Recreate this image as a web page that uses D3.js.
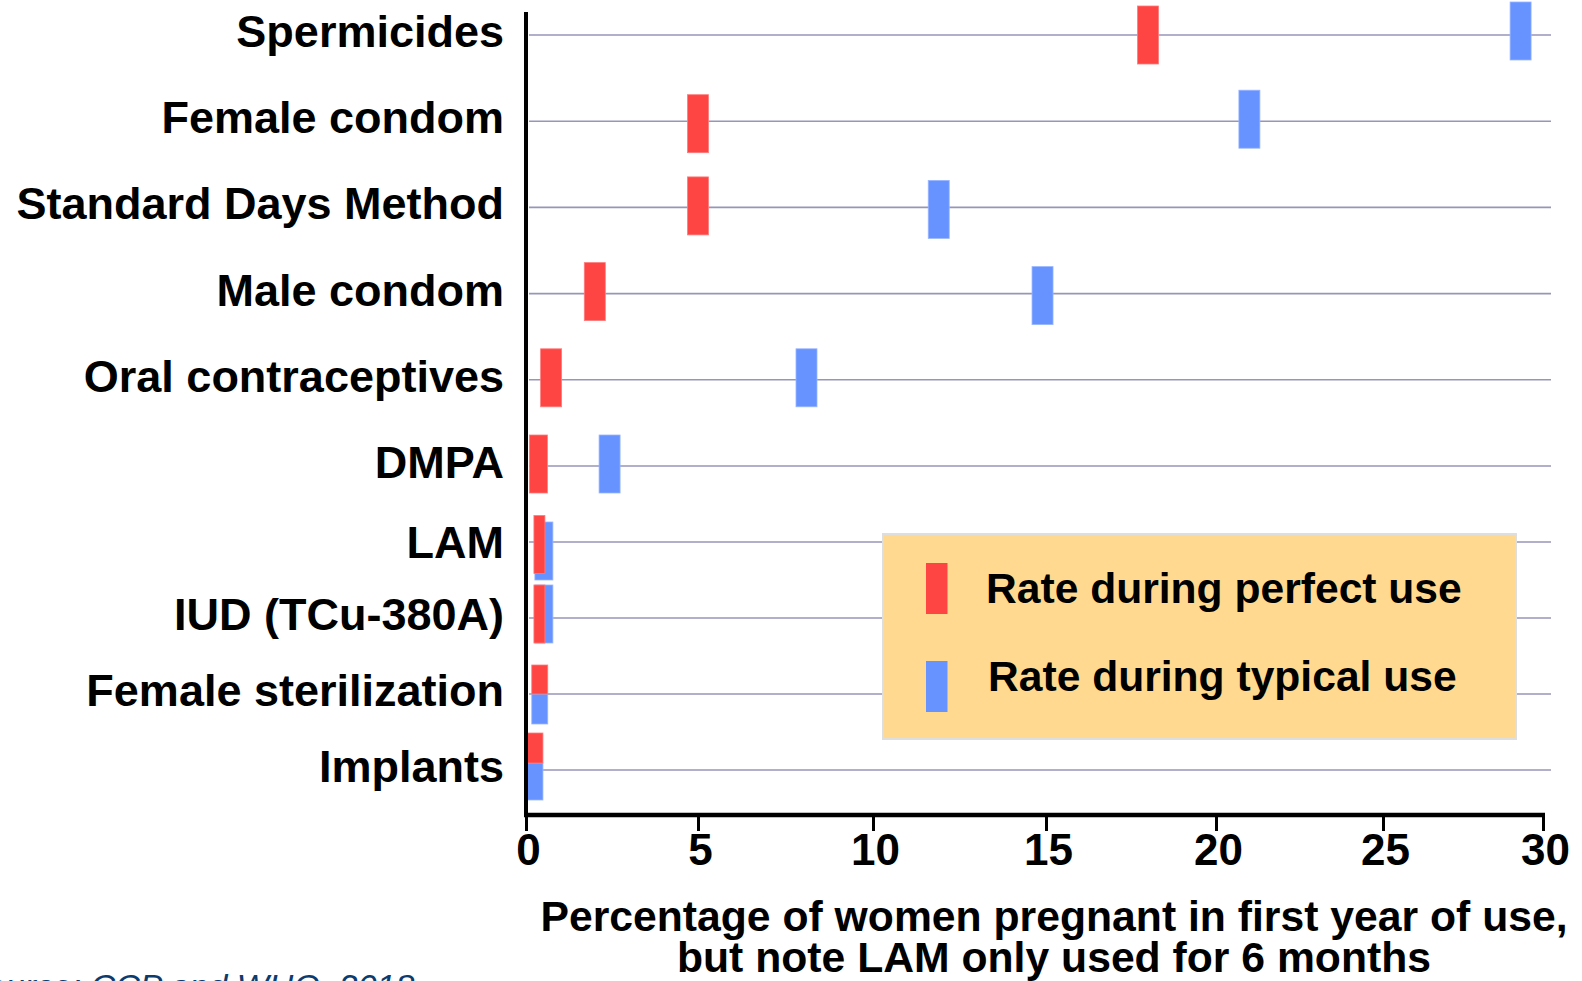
<!DOCTYPE html>
<html>
<head>
<meta charset="utf-8">
<script src="https://cdn.jsdelivr.net/npm/d3@7"></script>
<style>
  html, body { margin: 0; padding: 0; background: #ffffff; }
  svg { display: block; }
  text { font-family: "Liberation Sans", Arial, Helvetica, sans-serif; }
</style>
</head>
<body>
<svg id="chart" width="1582" height="981"></svg>
<script>
// ---------- data ----------
const categories = [
  "Spermicides", "Female condom", "Standard Days Method", "Male condom",
  "Oral contraceptives", "DMPA", "LAM", "IUD (TCu-380A)",
  "Female sterilization", "Implants"
];
const perfectUse = [18, 5, 5, 2, 0.73, 0.36, 0.39, 0.39, 0.4, 0.26];
const typicalUse = [29.3, 21, 11.9, 14.9, 8.1, 2.43, 0.52, 0.52, 0.4, 0.26];
const xTicks = [0, 5, 10, 15, 20, 25, 30];
const seriesNames = ["Rate during perfect use", "Rate during typical use"];
const axisTitle = ["Percentage of women pregnant in first year of use,", "but note LAM only used for 6 months"];
const sourceText = "Source: CCP and WHO, 2018";

// ---------- styling / layout ----------
const RED = "#ff4444", BLUE = "#6693ff";
const barShape = [
  {rdy: 0,    bdy: -4},
  {rdy: 2.5,  bdy: -2},
  {rdy: -1.5, bdy: 2},
  {rdy: -2,   bdy: 2},
  {rdy: -2,   bdy: -2},
  {rw: 18, rdy: -2, bdy: -2},
  {rw: 11, rdy: 2.5, bw: 18, bdy: 9},
  {rw: 11, rdy: -4,  bw: 18, bdy: -4},
  {rw: 16, rh: 29, rdy: -14.5, bw: 16, bh: 30, bdy: 15},
  {rw: 16, rh: 30, rdy: -22,   bw: 16, bh: 37, bdy: 11.5}
];
const defaultW = 21, defaultH = 58;

const svg = d3.select("#chart");

const x = d3.scaleLinear().domain(xTicks).range([526, 698, 873, 1046, 1216, 1383, 1543]);
const y = d3.scaleLinear().domain([0, 5, categories.length - 1]).range([35, 466, 770]);
const axisY = 815;
const axisTop = 12;
const gridRight = 1551;

// gridlines
svg.append("g").selectAll("line")
  .data(categories)
  .join("line")
  .attr("x1", x(0) + 3)
  .attr("x2", gridRight)
  .attr("y1", (d, i) => y(i))
  .attr("y2", (d, i) => y(i))
  .attr("stroke", "#9696b8")
  .attr("stroke-width", 1.6);

// bars
const rows = categories.map((c, i) => ({c, i, p: perfectUse[i], t: typicalUse[i], s: barShape[i]}));
const gBars = svg.append("g");
gBars.selectAll("rect.typ")
  .data(rows)
  .join("rect")
  .attr("class", "typ")
  .attr("x", d => x(d.t) - (d.s.bw || defaultW) / 2)
  .attr("width", d => d.s.bw || defaultW)
  .attr("y", d => y(d.i) + d.s.bdy - (d.s.bh || defaultH) / 2)
  .attr("height", d => d.s.bh || defaultH)
  .attr("fill", BLUE)
  .attr("stroke", "#9ab6ff").attr("stroke-width", 0.8);
gBars.selectAll("rect.per")
  .data(rows)
  .join("rect")
  .attr("class", "per")
  .attr("x", d => x(d.p) - (d.s.rw || defaultW) / 2)
  .attr("width", d => d.s.rw || defaultW)
  .attr("y", d => y(d.i) + d.s.rdy - (d.s.rh || defaultH) / 2)
  .attr("height", d => d.s.rh || defaultH)
  .attr("fill", RED)
  .attr("stroke", "#ff7c7c").attr("stroke-width", 0.8);

// category labels
svg.append("g").selectAll("text")
  .data(categories)
  .join("text")
  .attr("x", 504)
  .attr("y", (d, i) => y(i) + 12 + (i === 6 ? 4 : 0))
  .attr("text-anchor", "end")
  .attr("font-size", 45)
  .attr("font-weight", "bold")
  .attr("fill", "#000")
  .text(d => d);

// x axis
const xAxis = d3.axisBottom(x).tickValues(xTicks).tickSize(16).tickSizeOuter(0).tickFormat(d3.format("d"));
const gx = svg.append("g").attr("transform", `translate(0,${axisY})`).call(xAxis);
gx.select(".domain").attr("stroke", "#000").attr("stroke-width", 4.5)
  .attr("d", `M${x(0) - 2},0H${x(30) + 2}`);
gx.selectAll(".tick line").attr("stroke", "#000").attr("stroke-width", 3);
gx.selectAll(".tick text")
  .attr("dy", null)
  .attr("y", 50)
  .attr("dx", 2)
  .attr("font-size", 44)
  .attr("font-weight", "bold")
  .attr("font-family", "'Liberation Sans', Arial, sans-serif")
  .attr("fill", "#000");

// y axis line
svg.append("line")
  .attr("x1", x(0)).attr("x2", x(0))
  .attr("y1", axisTop).attr("y2", axisY + 2)
  .attr("stroke", "#000").attr("stroke-width", 4);

// axis title
svg.append("g").selectAll("text")
  .data(axisTitle)
  .join("text")
  .attr("x", 1054)
  .attr("y", (d, i) => 931 + i * 41)
  .attr("text-anchor", "middle")
  .attr("font-size", 42.7)
  .attr("font-weight", "bold")
  .attr("fill", "#000")
  .text(d => d);

// legend
const lg = svg.append("g");
lg.append("rect")
  .attr("x", 883).attr("y", 534).attr("width", 633).attr("height", 205)
  .attr("fill", "#ffd98f").attr("stroke", "#dedede").attr("stroke-width", 2);
const legendItems = seriesNames.map((n, i) => ({n, color: i === 0 ? RED : BLUE, i}));
lg.selectAll("rect.sw")
  .data(legendItems)
  .join("rect")
  .attr("class", "sw")
  .attr("x", 926).attr("width", 21.5)
  .attr("y", d => 563 + d.i * 98).attr("height", 51)
  .attr("fill", d => d.color);
lg.selectAll("text")
  .data(legendItems)
  .join("text")
  .attr("x", d => 986 + d.i * 2)
  .attr("y", d => 603 + d.i * 88)
  .attr("font-size", 42.6)
  .attr("font-weight", "bold")
  .attr("fill", "#000")
  .text(d => d.n);

// source note (partly cut off)
svg.append("text")
  .attr("x", -36).attr("y", 998)
  .attr("font-size", 34)
  .attr("font-style", "italic")
  .attr("fill", "#0d3b6e")
  .text(sourceText);
</script>
</body>
</html>
